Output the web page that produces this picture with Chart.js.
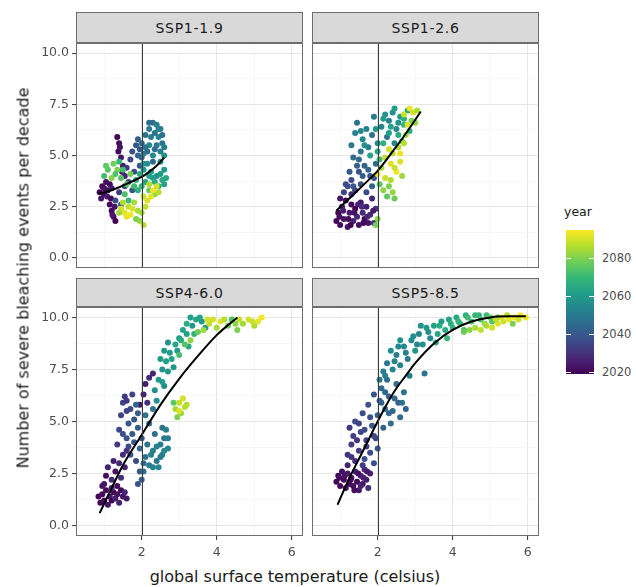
<!DOCTYPE html>
<html>
<head>
<meta charset="utf-8">
<script src="https://cdn.jsdelivr.net/npm/chart.js@4.4.1/dist/chart.umd.min.js"></script>
<style>
  body { margin: 0; background: #fff; font-family: "DejaVu Sans", sans-serif; }
  #page { position: relative; width: 636px; height: 587px; overflow: hidden; }
  .strip { position: absolute; box-sizing: border-box; background: #d9d9d9; border: 1px solid #6e6e6e;
           color: #1a1a1a; font-size: 14px; letter-spacing: 0.7px; display: flex; align-items: center; justify-content: center; }
  canvas { position: absolute; }
  .axis-title { position: absolute; color: #1a1a1a; font-size: 16px; white-space: nowrap; transform: translate(-50%, -50%); }
  .leg-label { position: absolute; color: #4d4d4d; font-size: 11.5px; transform: translateY(-50%); }
</style>
</head>
<body>
<div id="page">
  <div class="strip" style="left:76px;top:12px;width:227px;height:31px">SSP1-1.9</div>
  <div class="strip" style="left:312px;top:12px;width:227px;height:31px">SSP1-2.6</div>
  <div class="strip" style="left:76px;top:278px;width:227px;height:29px">SSP4-6.0</div>
  <div class="strip" style="left:312px;top:278px;width:227px;height:29px">SSP5-8.5</div>

  <canvas id="p1" width="273" height="225" style="left:30px;top:43px"></canvas>
  <canvas id="p2" width="227" height="225" style="left:312px;top:43px"></canvas>
  <canvas id="p3" width="273" height="253" style="left:30px;top:307px"></canvas>
  <canvas id="p4" width="227" height="253" style="left:312px;top:307px"></canvas>

  <div class="axis-title" style="left:295px;top:576px">global surface temperature (celsius)</div>
  <div class="axis-title" style="left:23px;top:278px;transform:translate(-50%,-50%) rotate(-90deg)">Number of severe bleaching events per decade</div>

  <div id="legend"></div>
</div>

<script>
// Axes
const xMin = 0.25, xMax = 6.3;
const yMin = -0.5, yMax = 10.5;
const xGridTicks = [1, 2, 3, 4, 5, 6];
const xMajor = [2, 4, 6];
const yGridTicks = [0, 1.25, 2.5, 3.75, 5, 6.25, 7.5, 8.75, 10];
const yMajor = [0, 2.5, 5, 7.5, 10];
const refTemp = 2; // vertical reference line (2 degrees)

// Colour scale (year)
const yearMin = 2019, yearMax = 2095;
const yearTicks = [2020, 2040, 2060, 2080];
const viridisStops = ["#440154", "#482878", "#3e4989", "#31688e", "#26828e",
                      "#1f9e89", "#35b779", "#6dcd59", "#b4de2c", "#fde725"];

// Points: [temperature, events per decade, year]
const ssp119 = [
  [0.88,3.2,2020],[0.95,3.5,2021],[1.0,3.1,2019],[1.05,3.7,2022],[1.1,3.3,2023],[1.15,3.6,2020],[0.92,2.9,2024],[1.2,3.4,2025],
  [1.0,3.4,2022],[1.08,3.0,2025],[1.18,2.9,2021],
  [1.15,2.6,2020],[1.2,2.3,2021],[1.25,2.0,2022],[1.3,1.8,2019],[1.22,2.1,2024],[1.28,2.5,2023],
  [1.35,5.9,2020],[1.4,5.6,2022],[1.38,5.2,2021],[1.45,4.9,2024],[1.5,4.5,2025],[1.48,4.2,2023],[1.55,4.0,2026],[1.42,5.4,2023],
  [1.6,4.4,2032],[1.7,4.8,2035],[1.75,5.2,2038],[1.85,5.5,2040],[1.9,5.8,2042],[1.95,5.3,2040],[2.0,4.9,2044],
  [1.8,4.2,2036],[1.65,3.7,2034],[1.75,3.3,2040],[1.55,3.5,2038],[1.4,3.2,2033],[1.3,2.8,2036],[1.45,2.6,2041],
  [1.9,5.0,2043],[1.95,4.5,2039],[2.15,5.2,2044],
  [2.1,6.0,2048],[2.2,6.3,2050],[2.3,6.6,2047],[2.4,6.5,2052],[2.5,6.3,2049],[2.45,5.9,2054],[2.55,5.6,2050],
  [2.35,5.3,2046],[2.2,5.5,2055],[2.05,5.1,2050],[2.15,4.6,2056],[2.3,4.7,2045],[2.5,5.2,2052],[2.6,5.0,2057],
  [2.0,5.6,2046],[2.1,5.4,2049],[2.25,5.9,2051],[2.35,6.1,2048],[2.45,6.3,2053],[2.55,6.0,2047],[2.4,5.5,2050],
  [2.3,5.0,2054],[2.5,4.7,2056],[2.05,4.6,2058],[2.2,6.6,2045],[2.6,5.4,2051],
  [2.05,4.3,2060],[2.25,4.2,2062],[2.4,4.0,2058],[2.55,3.8,2065],[2.6,3.6,2063],[2.45,3.5,2067],[2.3,3.9,2061],
  [2.1,3.7,2064],[1.95,4.1,2066],[1.85,3.8,2068],[2.6,4.3,2060],
  [2.2,4.0,2063],[2.35,3.7,2066],[2.5,4.1,2061],[2.65,3.9,2064],[2.0,3.5,2069],[1.9,3.3,2067],[1.8,3.5,2071],
  [1.0,4.0,2072],[1.1,4.3,2075],[1.25,4.6,2078],[1.35,4.3,2080],[1.45,3.9,2074],[1.6,3.6,2076],[1.7,4.1,2079],
  [1.2,3.9,2081],[1.55,3.1,2073],[1.65,2.8,2070],[2.2,3.3,2077],[2.35,3.1,2082],
  [1.05,4.5,2076],[1.3,4.1,2074],[1.5,4.3,2072],[1.4,4.7,2070],
  [1.45,2.4,2090],[1.55,2.2,2092],[1.65,2.5,2088],[1.7,2.1,2094],[1.8,2.7,2085],[1.6,2.0,2093],[2.05,3.0,2089],
  [2.15,2.8,2091],[2.3,3.3,2094],[2.2,3.6,2086],[2.4,3.5,2090],[2.0,2.2,2084],[1.95,1.8,2083],[2.05,1.6,2087],[1.85,1.9,2080],
  [1.5,2.7,2086],[1.75,2.4,2091],[2.1,2.5,2088],[2.25,3.0,2092],[1.9,2.3,2085],[1.4,2.2,2084],[2.45,3.2,2087]
];
const ssp126 = [
  [0.9,1.8,2020],[0.95,2.2,2019],[1.0,1.6,2021],[1.05,2.5,2022],[1.1,1.9,2023],[1.15,2.8,2020],[1.2,1.5,2024],[1.25,2.2,2025],
  [1.3,2.6,2021],[1.35,1.8,2026],[1.4,2.4,2019],[1.45,2.0,2027],[1.5,1.6,2022],[1.55,2.7,2024],[1.6,2.2,2028],[1.65,1.9,2020],
  [1.7,2.5,2025],[1.75,1.7,2023],[1.8,2.1,2029],[1.85,2.9,2027],[1.9,1.7,2030],[1.0,2.9,2024],[1.3,3.1,2028],[1.95,2.4,2031],
  [0.98,2.0,2022],[1.08,2.3,2025],[1.22,1.9,2020],[1.38,2.2,2023],[1.48,2.6,2026],[1.62,1.7,2021],[1.72,2.0,2027],
  [1.88,2.3,2024],[1.28,1.6,2019],[1.58,2.5,2029],
  [1.1,3.2,2035],[1.2,3.5,2038],[1.3,3.8,2036],[1.25,4.2,2040],[1.4,3.3,2033],[1.45,4.5,2042],[1.55,3.6,2039],
  [1.6,4.0,2041],[1.7,3.2,2037],[1.75,4.3,2044],[1.85,3.5,2043],[1.5,4.8,2045],[1.9,3.9,2040],[1.35,4.9,2046],
  [1.15,3.6,2037],[1.35,3.5,2040],[1.5,4.2,2038],[1.65,4.5,2043],[1.8,4.0,2039],[1.95,4.6,2045],
  [1.3,5.5,2050],[1.4,6.1,2052],[1.45,6.6,2048],[1.55,5.2,2049],[1.6,5.8,2055],[1.7,6.3,2053],[1.75,5.4,2051],
  [1.85,6.0,2047],[1.9,6.9,2050],[2.0,5.6,2056],[2.1,6.4,2054],[2.2,7.0,2058],[2.3,6.7,2052],[2.4,7.1,2057],
  [2.5,6.3,2055],[2.6,6.9,2060],[2.25,5.9,2049],[2.45,5.6,2053],
  [1.55,6.2,2054],[1.65,5.5,2057],[1.95,6.3,2059],[2.15,6.8,2061],[2.35,6.4,2063],[2.55,6.6,2058],[2.45,7.3,2062],[2.7,6.8,2066],
  [2.0,5.2,2065],[2.15,5.6,2068],[2.3,6.1,2062],[2.55,6.0,2066],[2.7,6.5,2070],[2.8,7.2,2064],[2.65,5.7,2072],
  [2.85,6.2,2067],[1.8,5.0,2063],[2.05,4.8,2071],
  [2.1,4.4,2085],[2.2,4.9,2088],[2.3,5.3,2090],[2.35,4.6,2092],[2.4,5.1,2087],[2.5,4.2,2094],[2.55,5.4,2086],
  [2.6,4.7,2091],[2.2,3.9,2089],[2.0,4.1,2093],[2.3,3.5,2080],[2.4,3.2,2083],[2.45,2.9,2078],[2.25,3.0,2076],
  [2.7,7.0,2089],[2.85,7.3,2093],[2.95,7.1,2090],[3.05,7.2,2086],[2.9,6.7,2080],[3.0,6.6,2082],[2.75,6.0,2084],[2.05,3.6,2075],
  [2.45,4.4,2089],[2.6,5.1,2093],[2.7,5.6,2087],[2.8,6.5,2091],[2.65,4.0,2084],[2.15,3.3,2082],[2.35,3.8,2086],
  [1.95,1.6,2079],[2.0,1.9,2081]
];
const ssp460 = [
  [0.85,1.4,2020],[0.9,1.1,2019],[0.95,1.5,2021],[1.0,1.2,2022],[1.05,1.7,2020],[1.1,1.0,2023],[1.15,1.4,2024],
  [1.2,1.2,2019],[1.25,1.6,2021],[1.3,1.3,2025],[1.35,1.5,2022],[1.4,1.1,2026],[1.45,1.7,2020],[1.5,1.4,2023],[1.55,1.6,2027],
  [0.95,1.9,2023],[1.2,1.8,2026],[1.35,1.9,2021],[1.6,1.3,2024],
  [1.0,2.0,2024],[1.05,2.4,2022],[1.1,2.8,2026],[1.2,2.2,2028],[1.25,3.1,2025],[1.3,2.6,2023],[1.4,3.0,2027],
  [1.45,2.3,2029],[1.5,3.4,2028],[1.55,2.8,2026],[1.6,3.6,2030],
  [1.95,5.8,2024],[2.05,6.3,2026],[2.1,6.8,2025],[2.2,7.1,2028],[2.3,7.3,2027],[2.15,5.9,2029],
  [1.35,3.9,2032],[1.4,4.6,2035],[1.45,5.3,2034],[1.5,5.9,2036],[1.55,6.2,2033],[1.6,4.2,2038],[1.65,4.9,2040],
  [1.7,5.6,2037],[1.75,4.4,2041],[1.8,5.1,2039],[1.85,5.8,2043],[1.9,4.7,2042],[1.95,3.7,2044],[1.7,3.4,2039],
  [1.85,3.1,2036],[1.95,2.6,2040],[2.0,2.2,2042],[1.9,2.0,2038],[2.05,3.0,2045],[1.75,6.3,2035],[1.6,6.0,2031],
  [1.5,4.4,2037],[1.6,5.5,2034],[1.8,4.0,2040],[1.9,5.4,2041],[2.0,4.2,2043],[1.65,3.8,2036],
  [2.1,3.3,2048],[2.2,2.9,2050],[2.3,3.6,2052],[2.4,3.1,2049],[2.5,3.9,2051],[2.55,3.4,2053],[2.6,4.2,2050],
  [2.35,4.4,2047],[2.2,4.9,2046],[2.45,2.8,2054],[2.7,3.7,2055],[2.65,4.6,2052],[2.1,5.3,2048],[2.3,5.6,2050],
  [2.15,3.9,2049],[2.25,3.4,2051],[2.4,3.8,2053],[2.5,3.3,2050],[2.6,3.6,2054],[2.3,2.8,2052],[2.55,4.7,2048],
  [2.7,4.2,2051],[2.05,2.6,2047],
  [2.35,6.5,2057],[2.45,7.0,2060],[2.55,7.5,2058],[2.65,7.9,2062],[2.75,8.3,2060],[2.9,8.7,2064],[3.0,9.0,2061],
  [3.1,9.4,2063],[3.2,9.7,2066],[3.3,10.0,2062],[3.45,9.9,2064],[3.6,9.8,2060],[3.7,9.5,2058],[3.4,9.2,2068],
  [2.6,6.7,2056],[2.85,7.6,2059],[3.25,8.6,2065],[2.5,8.0,2061],[2.7,8.8,2057],
  [2.4,6.0,2058],[2.55,6.9,2061],[2.7,7.4,2059],[2.8,8.0,2063],[2.95,8.4,2060],[3.05,8.9,2066],[3.2,9.2,2062],
  [3.35,9.6,2060],[3.55,10.0,2063],[2.6,8.4,2059],
  [3.0,8.2,2072],[3.15,8.7,2075],[3.5,9.3,2078],[3.3,8.9,2082],
  [2.9,5.6,2085],[3.0,5.9,2088],[3.1,6.1,2090],[3.2,5.8,2086],[2.95,5.2,2080],[3.05,5.4,2083],[2.85,5.9,2076],
  [3.0,5.5,2091],[3.15,5.7,2087],
  [3.8,9.7,2088],[3.9,9.9,2090],[4.0,9.5,2085],[4.1,9.8,2092],[4.3,9.6,2078],[4.55,9.4,2080],[4.7,9.7,2084],
  [4.85,9.9,2090],[5.0,9.6,2086],[5.1,9.8,2092],[5.2,10.0,2094],[4.6,9.9,2088],[4.4,9.9,2074],
  [3.65,9.4,2084],[3.75,9.9,2090],[4.2,9.9,2087],[4.5,9.7,2082],[4.95,9.8,2089]
];
const ssp585 = [
  [0.9,2.1,2020],[0.95,2.4,2019],[1.0,1.9,2021],[1.05,2.6,2022],[1.1,2.2,2020],[1.15,1.8,2023],[1.2,2.5,2024],
  [1.25,2.0,2021],[1.3,2.3,2025],[1.35,1.9,2022],[1.4,2.6,2026],[1.45,2.1,2020],[1.5,1.7,2024],[1.55,2.4,2027],
  [1.6,2.0,2023],[1.65,2.7,2028],[1.7,2.2,2025],[1.75,1.8,2029],[1.8,2.5,2026],[1.2,2.9,2027],[1.4,3.1,2029],
  [0.98,2.3,2021],[1.12,2.4,2023],[1.28,2.2,2020],[1.48,2.5,2022],[1.62,2.3,2025],[1.72,2.6,2024],[1.38,1.7,2021],[1.55,1.9,2026],
  [1.2,3.4,2030],[1.3,3.9,2032],[1.35,4.3,2034],[1.25,4.7,2031],[1.4,5.0,2036],[1.5,3.6,2033],[1.55,4.5,2035],
  [1.6,5.4,2037],[1.65,3.2,2038],[1.7,4.1,2034],[1.75,5.8,2039],[1.8,3.5,2036],[1.85,4.8,2040],[1.9,3.0,2038],
  [1.95,4.2,2035],[2.0,3.7,2041],[1.6,2.9,2032],[1.45,4.1,2031],
  [1.3,3.3,2030],[1.5,4.9,2034],[1.65,4.6,2037],[1.8,5.2,2038],[1.9,4.3,2036],[1.7,3.8,2033],
  [2.0,5.3,2042],[2.05,6.0,2040],[2.1,6.6,2044],[2.15,4.7,2043],[2.2,5.6,2045],[2.3,6.2,2041],[2.35,4.9,2046],
  [2.4,5.5,2044],[2.5,6.8,2047],[2.55,5.9,2042],[2.6,5.2,2045],[2.7,6.4,2048],[1.9,6.3,2039],[2.25,7.0,2046],[2.75,5.6,2043],
  [2.1,5.9,2043],[2.2,6.4,2045],[2.45,6.1,2046],[2.65,5.9,2047],[2.3,5.4,2044],
  [2.05,7.0,2050],[2.15,7.4,2052],[2.25,7.8,2049],[2.4,7.5,2054],[2.5,8.2,2051],[2.6,7.7,2053],[2.7,8.6,2055],
  [2.8,8.0,2050],[2.9,8.9,2056],[3.0,8.4,2058],[3.1,9.2,2054],[3.2,8.7,2057],[3.3,9.5,2059],[3.4,9.0,2055],
  [2.85,7.2,2052],[3.25,7.3,2048],[2.35,8.4,2056],[2.6,8.9,2058],
  [2.2,7.2,2051],[2.45,7.9,2053],[2.55,8.6,2055],[2.75,8.3,2052],[2.95,9.1,2057],[3.05,8.7,2054],[3.15,9.6,2058],[3.35,9.3,2056],
  [3.5,9.6,2062],[3.6,9.2,2064],[3.7,9.8,2061],[3.8,9.4,2066],[3.9,9.9,2063],[4.0,9.5,2068],[4.1,10.0,2065],
  [4.2,9.7,2070],[4.35,10.1,2067],[4.5,9.8,2072],[4.6,10.1,2069],[4.75,9.9,2073],[4.9,10.1,2071],[5.05,9.8,2074],
  [3.55,8.8,2066],[3.85,9.0,2070],[4.3,9.4,2073],[5.2,10.0,2068],
  [3.65,9.6,2065],[3.95,9.7,2067],[4.15,9.8,2069],[4.4,10.0,2071],[4.7,10.1,2070],
  [4.3,9.3,2078],[4.45,9.4,2082],[4.6,9.5,2085],[4.75,9.4,2088],[4.9,9.6,2086],[5.05,9.5,2090],[5.2,9.7,2092],
  [5.35,9.8,2089],[5.5,9.9,2093],[5.65,10.0,2094],[5.8,10.1,2095],[5.95,10.0,2093],[5.45,10.1,2087],[5.6,9.7,2080],[5.0,10.0,2076],
  [4.85,9.7,2084],[5.15,9.9,2088],[5.3,10.0,2091],[5.75,9.9,2090]
];

// Smoothed trend lines: [temperature, events]
const smooth119 = [[0.85,3.15],[1.1,3.25],[1.4,3.45],[1.7,3.7],[2.0,3.95],[2.2,4.2],[2.4,4.5],[2.6,4.9]];
const smooth126 = [[0.9,2.3],[1.3,3.0],[1.7,3.7],[2.0,4.25],[2.4,5.2],[2.8,6.2],[3.15,7.15]];
const smooth460 = [[0.88,0.6],[1.2,1.8],[1.5,2.9],[2.0,4.35],[2.5,5.8],[3.0,7.05],[3.5,8.15],[4.0,9.15],[4.55,10.0]];
const smooth585 = [[0.93,1.0],[1.25,2.3],[1.5,3.2],[1.75,4.1],[2.0,5.0],[2.25,5.85],[2.5,6.6],[2.75,7.2],[3.0,7.8],
                   [3.5,8.75],[4.0,9.4],[4.5,9.8],[5.0,10.0],[5.5,10.05],[5.95,10.05]];

const fontFamily = "'DejaVu Sans', sans-serif";
const majorGrid = "#e6e6e6";
const minorGrid = "#f3f3f3";

function hexToRgb(h) {
  const n = parseInt(h.slice(1), 16);
  return [(n >> 16) & 255, (n >> 8) & 255, n & 255];
}

// Viridis colour for a year
function viridis(year) {
  let t = (year - yearMin) / (yearMax - yearMin);
  t = Math.min(1, Math.max(0, t));
  const pos = t * (viridisStops.length - 1);
  const i = Math.min(Math.floor(pos), viridisStops.length - 2);
  const f = pos - i;
  const a = hexToRgb(viridisStops[i]);
  const b = hexToRgb(viridisStops[i + 1]);
  const c = a.map((v, k) => Math.round(v + (b[k] - v) * f));
  return `rgb(${c[0]},${c[1]},${c[2]})`;
}

// No extra padding around the plot area (keeps panels aligned)
function noPadding(s) {
  s.paddingTop = 0;
  s.paddingBottom = 0;
  s.paddingLeft = 0;
  s.paddingRight = 0;
}

// Reference line and panel border
const panelDecor = {
  id: "panelDecor",
  afterDatasetsDraw(chart) {
    const { ctx, chartArea: a, scales } = chart;
    const px = Math.round(scales.x.getPixelForValue(refTemp)) + 0.5;
    ctx.save();
    ctx.strokeStyle = "#3a3a3a";
    ctx.lineWidth = 1;
    ctx.beginPath();
    ctx.moveTo(px, a.top);
    ctx.lineTo(px, a.bottom);
    ctx.stroke();
    ctx.restore();
  },
  afterDraw(chart) {
    const { ctx, chartArea: a } = chart;
    ctx.save();
    ctx.strokeStyle = "#6e6e6e";
    ctx.lineWidth = 1;
    ctx.strokeRect(a.left + 0.5, a.top + 0.5, a.right - a.left - 1, a.bottom - a.top - 1);
    ctx.restore();
  }
};

function makePanel(id, points, curve, showX, showY) {
  new Chart(document.getElementById(id), {
    type: "scatter",
    data: {
      datasets: [
        {
          type: "line",
          data: curve.map(p => ({ x: p[0], y: p[1] })),
          borderColor: "#000",
          borderWidth: 2,
          pointRadius: 0,
          cubicInterpolationMode: "monotone",
          fill: false,
          order: 0
        },
        {
          data: points.map(p => ({ x: p[0], y: p[1] })),
          backgroundColor: points.map(p => viridis(p[2])),
          pointRadius: 3,
          borderWidth: 0,
          order: 1
        }
      ]
    },
    options: {
      responsive: false,
      animation: false,
      events: [],
      layout: { padding: 0, autoPadding: false },
      plugins: { legend: { display: false }, tooltip: { enabled: false } },
      scales: {
        x: {
          type: "linear", min: xMin, max: xMax,
          afterBuildTicks: s => { s.ticks = xGridTicks.map(v => ({ value: v })); },
          afterFit: s => { s.height = showX ? 24 : 0; noPadding(s); },
          border: { display: false },
          grid: {
            color: c => xMajor.includes(c.tick.value) ? majorGrid : minorGrid,
            lineWidth: c => xMajor.includes(c.tick.value) ? 1.1 : 0.7,
            drawTicks: showX,
            tickLength: 4,
            tickColor: c => xMajor.includes(c.tick.value) ? "#444" : "rgba(0,0,0,0)"
          },
          ticks: {
            display: showX, autoSkip: false, maxRotation: 0, padding: 5,
            color: "#4d4d4d", font: { family: fontFamily, size: 12.5 },
            callback: v => xMajor.includes(v) ? String(v) : ""
          }
        },
        y: {
          type: "linear", min: yMin, max: yMax,
          afterBuildTicks: s => { s.ticks = yGridTicks.map(v => ({ value: v })); },
          afterFit: s => { s.width = showY ? 46 : 0; noPadding(s); },
          border: { display: false },
          grid: {
            color: c => yMajor.includes(c.tick.value) ? majorGrid : minorGrid,
            lineWidth: c => yMajor.includes(c.tick.value) ? 1.1 : 0.7,
            drawTicks: showY,
            tickLength: 4,
            tickColor: c => yMajor.includes(c.tick.value) ? "#444" : "rgba(0,0,0,0)"
          },
          ticks: {
            display: showY, autoSkip: false, padding: 3,
            color: "#4d4d4d", font: { family: fontFamily, size: 12.5 },
            callback: v => yMajor.includes(v) ? v.toFixed(1) : ""
          }
        }
      }
    },
    plugins: [panelDecor]
  });
}

// Colour bar legend
function makeLegend() {
  const legend = document.getElementById("legend");
  const barLeft = 566, barTop = 230, barW = 28, barH = 144;
  const stops = viridisStops.map((c, i) => `${c} ${(i / (viridisStops.length - 1) * 100).toFixed(1)}%`);
  let html = `<div style="position:absolute;left:564px;top:204px;font-size:12.5px;color:#1a1a1a">year</div>`;
  html += `<div style="position:absolute;left:${barLeft}px;top:${barTop}px;width:${barW}px;height:${barH}px;` +
          `background:linear-gradient(to top, ${stops.join(",")})"></div>`;
  yearTicks.forEach(yr => {
    const y = barTop + (yearMax - yr) / (yearMax - yearMin) * barH;
    html += `<div style="position:absolute;left:${barLeft}px;top:${y - 0.5}px;width:5px;height:1px;background:#fff"></div>`;
    html += `<div style="position:absolute;left:${barLeft + barW - 5}px;top:${y - 0.5}px;width:5px;height:1px;background:#fff"></div>`;
    html += `<div class="leg-label" style="left:602px;top:${y}px">${yr}</div>`;
  });
  legend.innerHTML = html;
}

makePanel("p1", ssp119, smooth119, false, true);
makePanel("p2", ssp126, smooth126, false, false);
makePanel("p3", ssp460, smooth460, true, true);
makePanel("p4", ssp585, smooth585, true, false);
makeLegend();
</script>
</body>
</html>
